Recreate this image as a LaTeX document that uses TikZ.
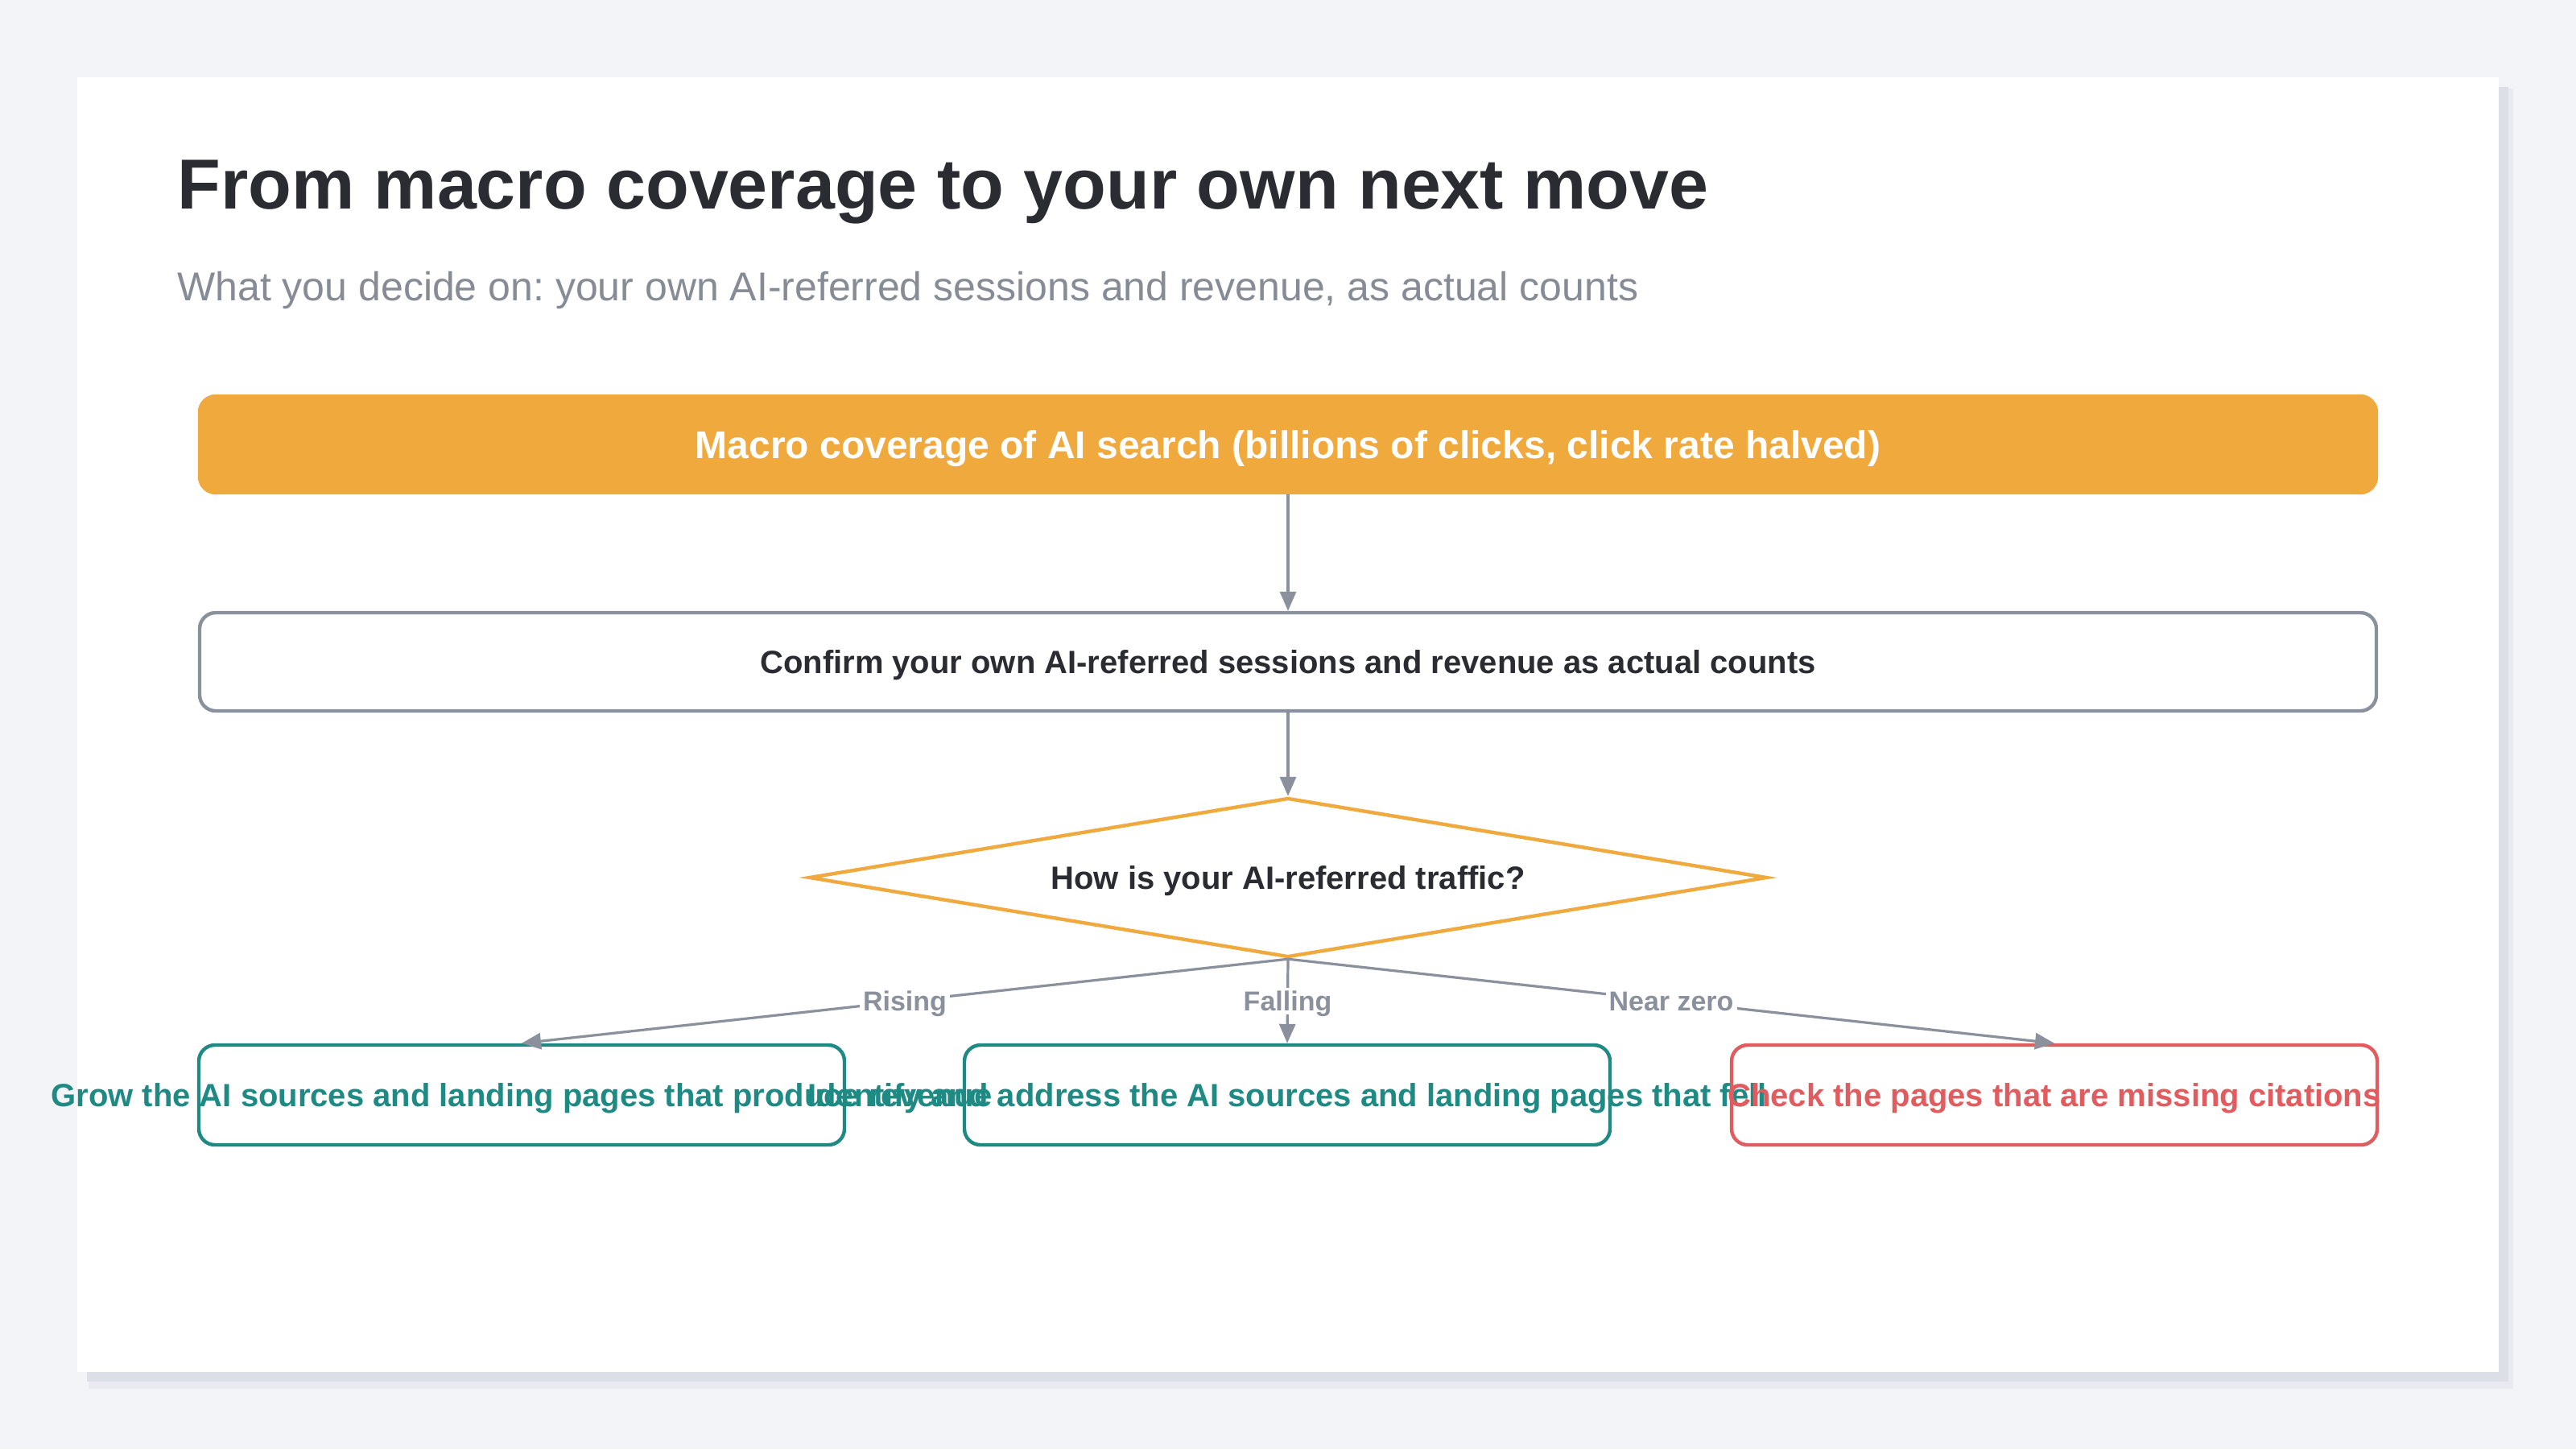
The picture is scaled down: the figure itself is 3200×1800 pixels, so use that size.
\documentclass[tikz,border=0pt]{standalone}
\usepackage{fontspec}
\setmainfont{Liberation Sans}
\usetikzlibrary{shapes.geometric,arrows.meta}
\definecolor{bgc}{HTML}{F3F4F8}
\definecolor{shadowA}{HTML}{E9EAEF}
\definecolor{shadowB}{HTML}{DCDFE5}
\definecolor{ink}{HTML}{2B2C31}
\definecolor{subgray}{HTML}{868B96}
\definecolor{linegray}{HTML}{8A909C}
\definecolor{orangec}{HTML}{F0A93C}
\definecolor{tealc}{HTML}{1F8A84}
\definecolor{redc}{HTML}{E05C5F}
\frenchspacing
\tikzset{
  box/.style={rectangle, rounded corners=10pt, line width=2.2pt, inner sep=0pt, text depth=0pt, font=\fontsize{20}{24}\selectfont\bfseries},
  arr/.style={draw=linegray, line width=1.6pt, -{Triangle[length=12pt,width=10pt]}},
  lbl/.style={fill=white, inner sep=2pt, text depth=0pt, text=linegray, font=\fontsize{17}{20}\selectfont\bfseries},
  btext/.style={inner sep=0pt, text depth=0pt, font=\fontsize{20}{24}\selectfont\bfseries},
}
\begin{document}
\begin{tikzpicture}[x=0.5pt,y=-0.5pt]
\useasboundingbox (0,0) rectangle (3200,1800);
\fill[bgc] (0,0) rectangle (3200,1800);
\fill[shadowA] (110,110) rectangle (3122,1725);
\fill[shadowB] (108,108) rectangle (3116,1716);
\fill[white] (96,96) rectangle (3104,1704);

\node[anchor=base west, text=ink, inner sep=0pt, font=\fontsize{44}{50}\selectfont\bfseries] (title) at (220,259) {From macro coverage to your own next move};
\node[anchor=base west, text=subgray, inner sep=0pt, font=\fontsize{25}{30}\selectfont] (subtitle) at (220,373) {What you decide on: your own AI-referred sessions and revenue, as actual counts};

\node[box, fill=orangec, draw=orangec, text=white, minimum width=1352pt, minimum height=60pt, font=\fontsize{24}{28}\selectfont\bfseries] (macro) at (1600,552) {Macro coverage of AI search (billions of clicks, click rate halved)};

\node[box, fill=white, draw=linegray, text=ink, minimum width=1352pt, minimum height=61pt] (confirm) at (1600,822) {Confirm your own AI-referred sessions and revenue as actual counts};

\node[diamond, aspect=6, draw=orangec, line width=2.2pt, fill=white, inner sep=0pt, text depth=0pt, minimum width=595pt, minimum height=99pt, text=ink, font=\fontsize{20}{24}\selectfont\bfseries] (q) at (1600,1090) {How is your AI-referred traffic?};

\node[box, fill=white, draw=tealc, minimum width=401pt, minimum height=62pt] (grow) at (648,1360) {};
\node[box, fill=white, draw=tealc, minimum width=401pt, minimum height=62pt] (fix) at (1599,1360) {};
\node[box, fill=white, draw=redc, minimum width=401pt, minimum height=62pt] (check) at (2552,1360) {};

\node[btext, text=tealc] (growt) at (grow.center) {Grow the AI sources and landing pages that produce revenue};
\node[btext, text=tealc] (fixt) at (fix.center) {Identify and address the AI sources and landing pages that fell};
\node[btext, text=redc] (checkt) at (check.center) {Check the pages that are missing citations};

\draw[arr] (macro.south) -- (confirm.north);
\draw[arr] (confirm.south) -- (q.north);
\draw[arr] (q.south) -- node[lbl]{Rising} (grow.north);
\draw[arr] (q.south) -- node[lbl]{Falling} (fix.north);
\draw[arr] (q.south) -- node[lbl]{Near zero} (check.north);
\end{tikzpicture}
\end{document}
